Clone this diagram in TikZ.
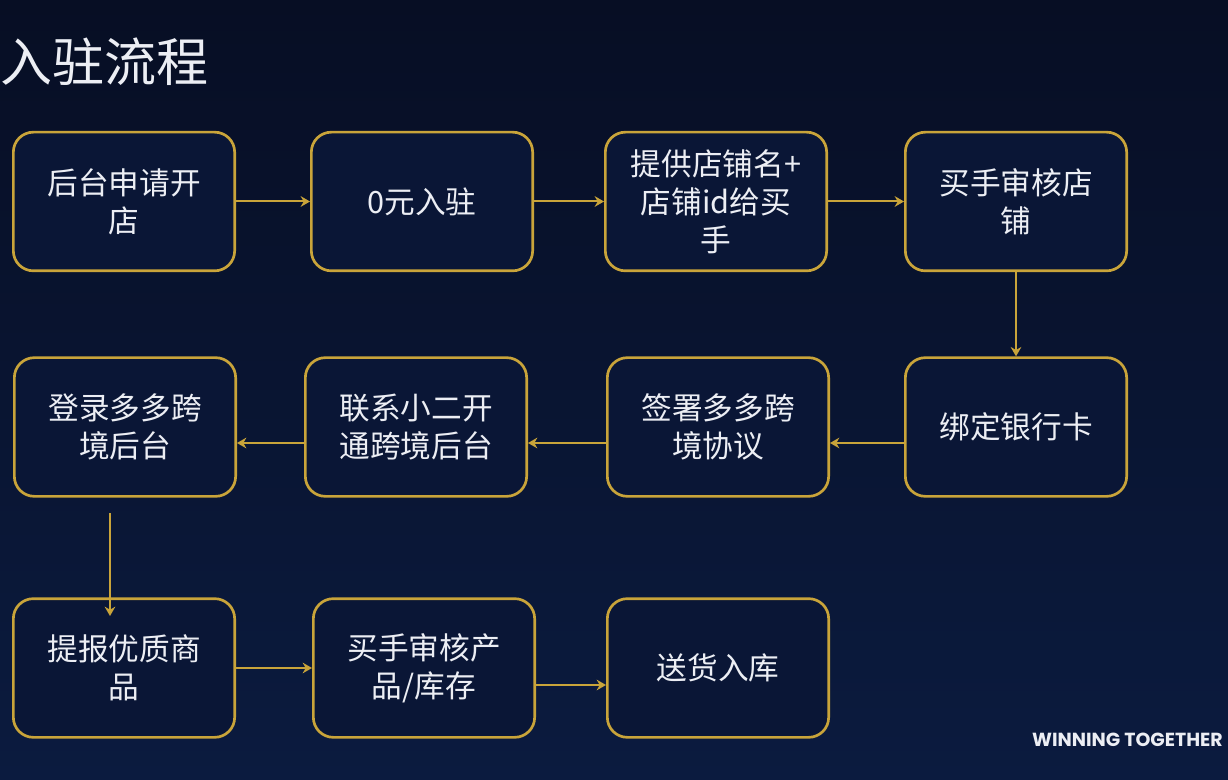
\documentclass[tikz,border=0pt]{standalone}
\usepackage{fontspec}
\newfontfamily\cjk{Noto Sans CJK SC}
\newfontfamily\brand{Poppins}
\usetikzlibrary{arrows.meta}
\definecolor{bgtop}{HTML}{070E24}
\definecolor{bgbot}{HTML}{0B1B3F}
\definecolor{boxfill}{HTML}{0A1636}
\definecolor{gold}{HTML}{C9A43A}
\definecolor{txt}{HTML}{ECEEF4}
\tikzset{
  stepbox/.style={draw=gold, line width=2pt, rounded corners=15pt, fill=boxfill,
    minimum width=166pt, minimum height=104pt, align=center, text=txt,
    font=\cjk\fontsize{23}{28.5}\selectfont, inner sep=0pt},
  flow/.style={draw=gold, line width=1.5pt, -{Stealth[length=7pt,width=8pt]}}
}
\begin{document}
\begin{tikzpicture}[x=0.75pt,y=-0.75pt]
\useasboundingbox (0,0) rectangle (1228,780);
\shade[top color=bgtop, bottom color=bgbot] (0,0) rectangle (1228,780);
\node[anchor=west, text=txt, font=\cjk\fontsize{39}{42}\selectfont, inner sep=0pt] (title) at (0,62) {入驻流程};
\node[anchor=east, text=txt, font=\brand\bfseries\fontsize{14.2}{16}\selectfont, inner sep=0pt] (brand) at (1223,740) {WINNING TOGETHER};

\node[stepbox] (A) at (124,201.5) {后台申请开\\店};
\node[stepbox] (B) at (422,201.5) {0元入驻};
\node[stepbox] (C) at (716,201.5) {提供店铺名+\\店铺id给买\\手};
\node[stepbox] (D) at (1016,201.5) {买手审核店\\铺};
\node[stepbox] (E) at (125,427) {登录多多跨\\境后台};
\node[stepbox] (F) at (416,427) {联系小二开\\通跨境后台};
\node[stepbox] (G) at (718,427) {签署多多跨\\境协议};
\node[stepbox] (H) at (1016,427) {绑定银行卡};
\node[stepbox] (I) at (124,668) {提报优质商\\品};
\node[stepbox] (J) at (424,668) {买手审核产\\品/库存};
\node[stepbox] (K) at (718,668) {送货入库};

\coordinate (eout) at (110,513);
\coordinate (iin) at (110,616);

\draw[flow] (A.east) -- (B.west);
\draw[flow] (B.east) -- (C.west);
\draw[flow] (C.east) -- (D.west);
\draw[flow] (D.south) -- (H.north);
\draw[flow] ([yshift=-12pt]H.west) -- ([yshift=-12pt]G.east);
\draw[flow] ([yshift=-12pt]G.west) -- ([yshift=-12pt]F.east);
\draw[flow] ([yshift=-12pt]F.west) -- ([yshift=-12pt]E.east);
\draw[flow] (eout) -- (iin);
\draw[flow] (I.east) -- (J.west);
\draw[flow] ([yshift=-12.75pt]J.east) -- ([yshift=-12.75pt]K.west);
\end{tikzpicture}
\end{document}
